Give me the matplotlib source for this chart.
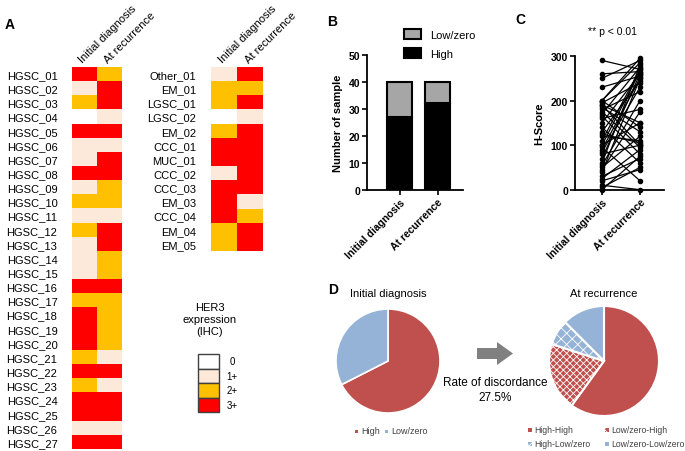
import numpy as np
import matplotlib
matplotlib.use('Agg')
from matplotlib import pyplot as plt
from matplotlib.colors import ListedColormap
from matplotlib.patches import Rectangle, Polygon

plt.rcParams['font.family'] = ['Liberation Sans', 'DejaVu Sans']
plt.rcParams['hatch.linewidth'] = 0.6

W, H = 685, 452

# ---- panel A: HER3 IHC grade per case (0, 1+, 2+, 3+ -> 0..3)
timepoints = ['Initial diagnosis', 'At recurrence']
cases_left = ['HGSC_01', 'HGSC_02', 'HGSC_03', 'HGSC_04', 'HGSC_05', 'HGSC_06',
              'HGSC_07', 'HGSC_08', 'HGSC_09', 'HGSC_10', 'HGSC_11', 'HGSC_12',
              'HGSC_13', 'HGSC_14', 'HGSC_15', 'HGSC_16', 'HGSC_17', 'HGSC_18',
              'HGSC_19', 'HGSC_20', 'HGSC_21', 'HGSC_22', 'HGSC_23', 'HGSC_24',
              'HGSC_25', 'HGSC_26', 'HGSC_27']
init_left = [3, 1, 2, 0, 3, 1, 1, 3, 1, 2, 1, 2, 1, 1, 1, 3, 2, 3, 3, 3, 2, 3, 2, 3, 3, 1, 3]
rec_left = [2, 3, 3, 1, 3, 1, 3, 3, 2, 2, 1, 3, 3, 2, 2, 3, 2, 2, 2, 2, 1, 3, 1, 3, 3, 1, 3]
cases_right = ['Other_01', 'EM_01', 'LGSC_01', 'LGSC_02', 'EM_02', 'CCC_01', 'MUC_01',
               'CCC_02', 'CCC_03', 'EM_03', 'CCC_04', 'EM_04', 'EM_05']
init_right = [1, 2, 2, 0, 2, 3, 3, 1, 3, 3, 3, 2, 2]
rec_right = [3, 2, 3, 1, 3, 3, 3, 3, 3, 1, 2, 3, 3]
ihc_levels = ['0', '1+', '2+', '3+']
ihc_colors = ['#FFFFFF', '#FDE9D9', '#FFC000', '#FF0000']

# ---- panel B: number of samples
high_counts = [27, 32]
low_counts = [13, 8]

# ---- panel C: paired H-scores (estimated)
hscore_init = [200, 40, 110, 5, 290, 30, 60, 260, 50, 100, 20, 130, 70, 80, 25, 250,
               120, 190, 185, 175, 140, 230, 95, 200, 195, 10, 180, 55, 125, 150,
               0, 90, 170, 160, 45, 200, 165, 190, 85, 100]
hscore_rec = [140, 250, 270, 50, 270, 70, 280, 265, 120, 150, 45, 245, 260, 100, 90, 290,
              110, 100, 130, 95, 60, 255, 20, 295, 240, 0, 220, 200, 105, 260,
              75, 250, 275, 180, 175, 285, 80, 150, 230, 265]

# ---- panel D: pies
init_pie_labels = ['High', 'Low/zero']
init_pie = [27, 13]
rec_pie_labels = ['High-High', 'Low/zero-High', 'High-Low/zero', 'Low/zero-Low/zero']
rec_pie = [24, 8, 3, 5]
red, blue = '#C0504D', '#95B3D7'

fig = plt.figure(figsize=(W / 100, H / 100), dpi=100)


def px_axes(l, t, w, h):
    return fig.add_axes([l / W, 1 - (t + h) / H, w / W, h / H])


ov = fig.add_axes([0, 0, 1, 1])
ov.set_xlim(0, W)
ov.set_ylim(H, 0)
ov.axis('off')

cmap = ListedColormap(ihc_colors)


def heat(ax, names, a, b):
    grid = np.array([a, b]).T
    ax.imshow(grid, cmap=cmap, vmin=-0.5, vmax=3.5, aspect='auto', interpolation='nearest')
    ax.set_yticks(range(len(names)), names, fontsize=8)
    ax.tick_params(top=True, labeltop=True, bottom=False, labelbottom=False,
                   length=0, pad=2)
    ax.tick_params(axis='y', pad=10.5)
    ax.set_xticks([0, 1], timepoints, fontsize=8, rotation=45, ha='left',
                  va='bottom', rotation_mode='anchor')
    for s in ax.spines.values():
        s.set_visible(False)


row_h = 382 / 27
heat(px_axes(72, 68, 50, 382), cases_left, init_left, rec_left)
heat(px_axes(211, 68, 52, row_h * 13), cases_right, init_right, rec_right)

ov.text(5, 25, 'A', fontsize=10, fontweight='bold', va='center')
ov.text(210, 320, 'HER3\nexpression\n(IHC)', fontsize=8, ha='center', va='center',
        linespacing=1.3)
for i, (lev, c) in enumerate(zip(ihc_levels, ihc_colors)):
    y0 = 355 + i * 14.5
    ov.add_patch(Rectangle((198, y0), 21, 14.5, facecolor=c, edgecolor='#404040', lw=1))
    ov.text(232, y0 + 7.5, lev, fontsize=7, ha='center', va='center')

# ---- panel B
axb = px_axes(367, 56, 96, 134.7)
xb = [0, 1]
axb.bar(xb, high_counts, width=0.66, color='black', edgecolor='black', lw=1.5, label='High')
axb.bar(xb, low_counts, bottom=high_counts, width=0.66, color='#A6A6A6',
        edgecolor='black', lw=1.5, label='Low/zero')
axb.set_xlim(-0.855, 1.67)
axb.set_ylim(0, 50)
axb.set_yticks([0, 10, 20, 30, 40, 50])
axb.set_ylabel('Number of sample', fontsize=8, fontweight='bold', labelpad=4)
h, l = axb.get_legend_handles_labels()
axb.legend(h[::-1], l[::-1], loc='upper left', bbox_to_anchor=(400 / W, 1 - 26 / H),
           bbox_transform=fig.transFigure, frameon=False, fontsize=8,
           handlelength=1.5, handleheight=1.0, labelspacing=0.7, borderaxespad=0)
ov.text(327, 22, 'B', fontsize=10, fontweight='bold', va='center')

# ---- panel C
axc = px_axes(575, 57, 89, 133.7)
for a, b in zip(hscore_init, hscore_rec):
    axc.plot([0, 1], [a, b], '-o', color='black', lw=0.9, ms=3, clip_on=False)
axc.set_xlim(-0.71, 1.63)
axc.set_ylim(0, 300)
axc.set_yticks([0, 100, 200, 300])
axc.set_ylabel('H-Score', fontsize=8, fontweight='bold', labelpad=5)
ov.text(515, 20, 'C', fontsize=10, fontweight='bold', va='center')
ov.text(613, 32, '** p < 0.01', fontsize=7.5, ha='center', va='center')

for ax in (axb, axc):
    ax.spines['top'].set_visible(False)
    ax.spines['right'].set_visible(False)
    for s in ('left', 'bottom'):
        ax.spines[s].set_linewidth(1.3)
    ax.tick_params(width=1.2, length=3.5, pad=1.5, labelsize=7.5)
    ax.set_xticks([0, 1], timepoints, rotation=45, ha='right', rotation_mode='anchor',
                  fontweight='bold', fontsize=7.5)
    for t in ax.get_yticklabels():
        t.set_fontweight('bold')

# ---- panel D
ov.text(328, 290, 'D', fontsize=10, fontweight='bold', va='center')
axp1 = px_axes(336, 310, 104, 104)
axp1.pie(init_pie, colors=[red, blue], startangle=90, counterclock=False,
         wedgeprops=dict(edgecolor='white', linewidth=1.2))
axp1.set_xlim(-1, 1)
axp1.set_ylim(-1, 1)
ov.text(388, 294, 'Initial diagnosis', fontsize=8, ha='center', va='center')

axp2 = px_axes(549, 307, 110, 110)
wedges, _ = axp2.pie(rec_pie, colors=[red, red, blue, blue], startangle=90,
                     counterclock=False,
                     wedgeprops=dict(edgecolor='white', linewidth=1.5))
wedges[1].set_hatch('xxxxx')
wedges[2].set_hatch('xxx')
axp2.set_xlim(-1, 1)
axp2.set_ylim(-1, 1)
ov.text(604, 294, 'At recurrence', fontsize=8, ha='center', va='center')

ov.add_patch(Polygon([(477, 349), (497, 349), (497, 343), (513, 354.5), (497, 366),
                      (497, 360), (477, 360)], closed=True, facecolor='#808080',
                     edgecolor='none'))
ov.text(495, 383, 'Rate of discordance', fontsize=8.5, ha='center', va='center')
ov.text(495, 398, '27.5%', fontsize=8.5, ha='center', va='center')

# pie legends
for (x, y), lab, c in zip([(357, 432), (387, 432)], init_pie_labels, [red, blue]):
    ov.add_patch(Rectangle((x - 1.5, y - 1.5), 3, 3, facecolor=c, edgecolor='none'))
    ov.text(x + 4, y, lab, fontsize=6.5, va='center', color='#404040')
leg_pos = [(530, 431), (607, 431), (530, 445), (607, 445)]
leg_hatch = [None, 'xxxx', 'xxxx', None]
for (x, y), lab, c, ht in zip(leg_pos, rec_pie_labels, [red, red, blue, blue], leg_hatch):
    ov.add_patch(Rectangle((x - 2, y - 2), 4, 4, facecolor=c,
                           edgecolor='white' if ht else 'none', hatch=ht, lw=0))
    ov.text(x + 4, y, lab, fontsize=6.2, va='center', color='#404040')

fig.savefig('out.png', dpi=100)
